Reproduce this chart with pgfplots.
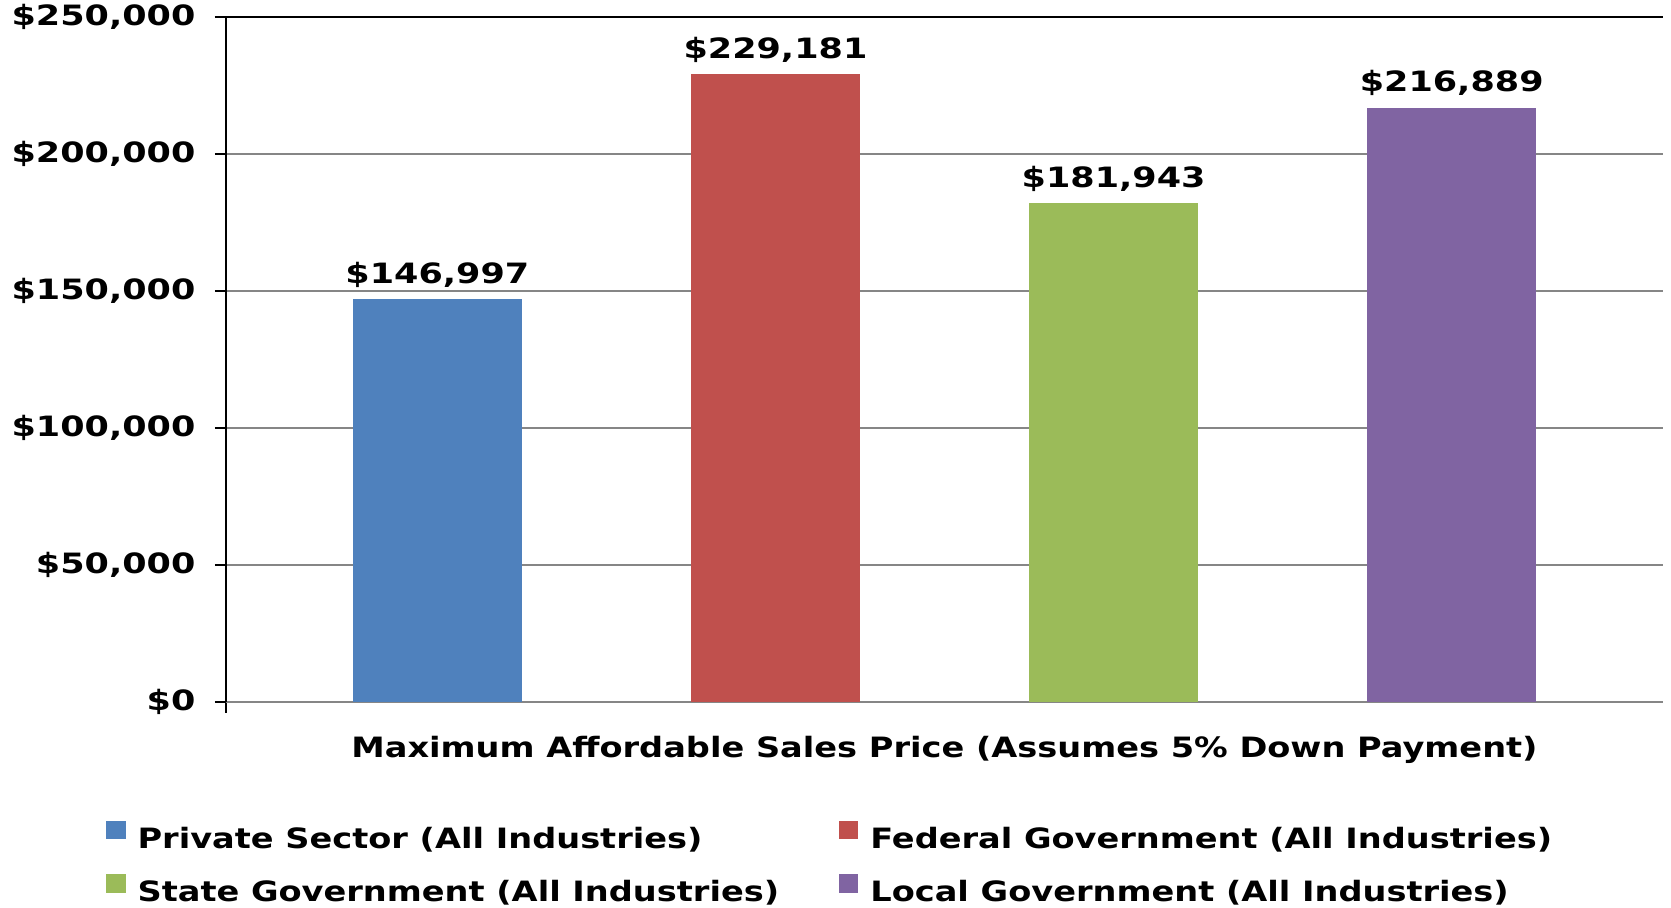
\documentclass[border=0pt]{standalone}
\usepackage{fontspec}
\setmainfont{DejaVu Sans}[FakeStretch=1.2]
\newfontfamily\numfont{DejaVu Sans}[FakeStretch=1.25]
\usepackage{pgfplots}
\pgfplotsset{compat=1.18}

\definecolor{privblue}{HTML}{4F81BD}
\definecolor{fedred}{HTML}{C0504D}
\definecolor{stategreen}{HTML}{9BBB59}
\definecolor{localpurple}{HTML}{8064A2}
\definecolor{gridgray}{HTML}{868686}
\newcommand{\cf}{\fontsize{14}{16}\selectfont\bfseries}
\newcommand{\nf}{\fontsize{14}{16}\selectfont\numfont\bfseries}

\begin{document}
\begin{tikzpicture}
\begin{axis}[
  name=ax,
  scale only axis,
  width=718.5pt, height=342.5pt,
  xmin=-0.625, xmax=3.625,
  ymin=0, ymax=250000,
  ytick={0,50000,100000,150000,200000,250000},
  yticklabels={\$0,{\$50,000},{\$100,000},{\$150,000},{\$200,000},{\$250,000}},
  scaled y ticks=false,
  xtick={-0.625}, xticklabels={},
  axis x line*=bottom, axis y line*=left,
  axis line style={-},
  x axis line style={draw=gridgray, line width=0.75pt},
  y axis line style={draw=black, line width=0.75pt},
  ymajorgrids, grid style={gridgray, line width=0.75pt},
  extra y ticks={250000}, extra y tick labels={},
  extra y tick style={grid style={black, line width=0.75pt}},
  tick style={black, line width=0.75pt},
  major tick length=5.5pt,
  tick align=outside,
  ticklabel style={font=\nf, inner sep=0pt},
  yticklabel style={xshift=-9.6pt},
  xlabel={Maximum Affordable Sales Price (Assumes 5\% Down Payment)},
  xlabel style={font=\cf, at={(axis description cs:0.5,-0.0807)}, anchor=base, inner sep=0pt},
  ybar, bar width=84.5pt,
  point meta=explicit symbolic,
  nodes near coords,
  every node near coord/.append style={font=\nf, anchor=base, yshift=8pt, inner sep=0pt, text=black},
  legend columns=2,
  legend cell align=left,
  legend image code/.code={\fill[#1] (0pt,0.5pt) rectangle (9.6pt,9.8pt);},
  legend style={draw=none, fill=none, inner sep=0pt,
    at={(axis description cs:-0.0835,-0.1727)}, anchor=north west,
    font=\cf,
    nodes={inner sep=0pt, text height=11pt, text depth=3pt},
    /tikz/every odd column/.style={column sep=6pt},
    /tikz/every even column/.style={column sep=30pt},
    row sep=10pt},
]
\addplot[fill=privblue, draw=none, bar shift=0pt] coordinates {(0,146997) [\$146,997]};
\addplot[fill=fedred, draw=none, bar shift=0pt] coordinates {(1,229181) [\$229,181]};
\addplot[fill=stategreen, draw=none, bar shift=0pt] coordinates {(2,181943) [\$181,943]};
\addplot[fill=localpurple, draw=none, bar shift=0pt] coordinates {(3,216889) [\$216,889]};
\legend{Private Sector (All Industries), Federal Government (All Industries), State Government (All Industries), Local Government (All Industries)}
\end{axis}
\path ([shift={(-113pt,-102.5pt)}]ax.south west) rectangle ++(835.5pt,453.5pt);
\end{tikzpicture}
\end{document}
